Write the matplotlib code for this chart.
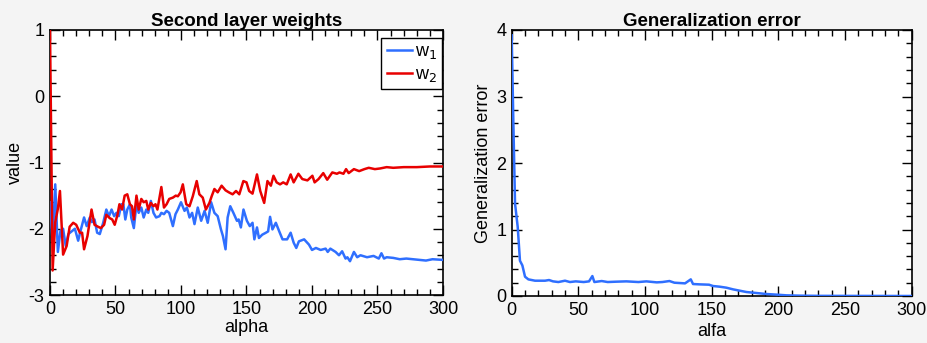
import matplotlib
matplotlib.use("Agg")
import matplotlib.pyplot as plt
from matplotlib.ticker import MultipleLocator

plt.rcParams['font.family'] = ['Liberation Sans', 'DejaVu Sans']
plt.rcParams['axes.unicode_minus'] = False

# second layer weights
alpha_w1 = [0, 2, 4, 6, 8, 10, 12, 14, 16.5, 19, 21.5, 23.6, 26, 28, 30.4, 32, 34, 36, 38, 40.6,
            43, 45, 47, 49, 50.7, 52.5, 54.5, 56, 57.5, 59, 61, 62, 64, 66, 67.7, 69.7, 71.5, 73.5,
            75, 77, 79, 81, 83.6, 85, 87, 89, 91, 93.8, 95.8, 97.6, 100, 102.7, 104.5, 106.5, 108.5,
            110.3, 112.8, 115.4, 118, 120.4, 123, 125.5, 128, 130.5, 132, 134, 135.6, 137.6, 140,
            142.7, 144, 145.7, 147.7, 150.3, 152.5, 154.6, 156, 158, 159.5, 162, 164.8, 166.5, 168,
            169.8, 172.4, 175, 177.5, 181, 183.7, 186, 188, 190, 194, 197.7, 200, 203, 206.6, 210.4,
            212, 214, 218, 220.6, 223, 225.6, 227, 229, 232, 234.5, 237, 242, 247, 251, 253, 255,
            257, 262, 267, 272, 277, 282, 287, 292, 300]
w1 = [-1.6, -2.2, -1.33, -2.35, -2.03, -2.0, -2.26, -2.08, -2.04, -2.0, -2.18, -2.01, -1.83, -1.96,
      -1.83, -1.9, -1.86, -2.06, -2.08, -1.91, -1.71, -1.81, -1.71, -1.81, -1.76, -1.81, -1.63,
      -1.63, -1.86, -1.71, -1.63, -1.83, -1.99, -1.63, -1.76, -1.68, -1.83, -1.71, -1.76, -1.58,
      -1.76, -1.83, -1.81, -1.76, -1.78, -1.73, -1.76, -1.96, -1.78, -1.71, -1.6, -1.73, -1.68,
      -1.83, -1.76, -1.93, -1.68, -1.88, -1.73, -1.91, -1.6, -1.76, -1.81, -2.01, -2.11, -2.31,
      -1.83, -1.66, -1.76, -1.88, -1.86, -1.98, -1.71, -1.88, -1.96, -1.91, -2.16, -1.98, -2.14,
      -2.09, -2.06, -2.04, -1.82, -2.01, -1.91, -2.04, -2.16, -2.16, -2.06, -2.21, -2.29, -2.19,
      -2.16, -2.24, -2.32, -2.29, -2.32, -2.3, -2.35, -2.3, -2.35, -2.4, -2.34, -2.45, -2.43,
      -2.49, -2.35, -2.43, -2.4, -2.43, -2.41, -2.45, -2.37, -2.45, -2.43, -2.44, -2.46, -2.45,
      -2.46, -2.47, -2.48, -2.46, -2.47]

alpha_w2 = [0, 2, 4, 6, 7.6, 10, 12.7, 15, 17.7, 20, 22.8, 24.5, 26, 28.6, 31.7, 34, 36.7, 38.8,
            41.3, 43, 45.6, 47.5, 49.4, 51.5, 53, 55, 57, 59, 61, 62.6, 64, 66, 67.7, 69.7, 71.5,
            73.5, 75, 77, 79, 80.5, 82, 85, 87, 89, 91, 93.8, 96, 97.6, 99.7, 101.4, 104, 106.5, 109,
            112, 114, 116.6, 119, 121.7, 123.4, 125.5, 128, 131, 134, 136.5, 139.4, 142, 144.5,
            147.6, 150, 152, 154.6, 158, 160.5, 163.5, 166, 168.6, 170.6, 173, 175.6, 178, 180.7,
            183.7, 186, 189.6, 192.6, 196.5, 200.3, 202, 205, 208.6, 211.6, 215.5, 219, 221, 224,
            226, 228, 232, 236, 240, 243.3, 248, 252, 257, 262, 270, 280, 290, 300]
w2 = [1.0, -2.63, -1.9, -1.7, -1.43, -2.39, -2.26, -1.97, -1.91, -1.94, -2.06, -2.06, -2.31, -2.11,
      -1.71, -1.94, -1.97, -1.99, -1.94, -1.79, -1.84, -1.86, -1.94, -1.79, -1.63, -1.71, -1.5,
      -1.48, -1.63, -1.66, -1.86, -1.5, -1.71, -1.55, -1.6, -1.58, -1.71, -1.61, -1.66, -1.63,
      -1.71, -1.37, -1.68, -1.63, -1.55, -1.53, -1.5, -1.51, -1.45, -1.33, -1.63, -1.66, -1.51,
      -1.28, -1.48, -1.53, -1.71, -1.61, -1.51, -1.4, -1.45, -1.35, -1.42, -1.45, -1.48, -1.43,
      -1.48, -1.28, -1.3, -1.43, -1.47, -1.18, -1.43, -1.61, -1.28, -1.35, -1.2, -1.3, -1.33,
      -1.3, -1.33, -1.18, -1.3, -1.17, -1.25, -1.27, -1.2, -1.3, -1.25, -1.16, -1.26, -1.15,
      -1.17, -1.15, -1.17, -1.1, -1.16, -1.1, -1.13, -1.1, -1.08, -1.1, -1.09, -1.07, -1.08,
      -1.07, -1.07, -1.06, -1.06]

# generalization error
alfa = [0, 1.2, 2.5, 4.5, 6.2, 8, 10, 12.5, 15, 17.5, 21, 25, 28, 31, 35, 40, 43.7, 48, 54, 58,
        60.5, 62, 67.5, 72, 78, 86, 95, 101, 108.8, 113, 118.3, 122, 130, 134.3, 136, 141, 148,
        151, 156, 161, 166, 171, 176, 181, 186, 191, 199, 206, 216, 230, 300]
gen_err = [3.92, 2.65, 1.39, 1.04, 0.53, 0.46, 0.29, 0.25, 0.24, 0.23, 0.23, 0.23, 0.24, 0.22,
           0.21, 0.23, 0.21, 0.22, 0.21, 0.22, 0.30, 0.21, 0.225, 0.21, 0.215, 0.22, 0.21, 0.22,
           0.205, 0.21, 0.225, 0.20, 0.19, 0.25, 0.18, 0.175, 0.17, 0.15, 0.14, 0.125, 0.10, 0.08,
           0.06, 0.05, 0.04, 0.03, 0.02, 0.01, 0.005, 0.002, 0.0]

blue = '#2f6fff'
red = '#e80000'
bg = '#f4f4f4'

fig = plt.figure(figsize=(9.28, 3.43), dpi=100, facecolor=bg)
ax1 = fig.add_axes([50 / 928, 48 / 343, 393 / 928, 265 / 343])
ax2 = fig.add_axes([511.7 / 928, 47 / 343, 400 / 928, 266 / 343])


def style(ax):
    ax.tick_params(which='both', direction='in', top=True, right=True, labelsize=13, pad=4)
    ax.tick_params(which='major', length=7, width=1)
    ax.tick_params(which='minor', length=4, width=1)
    for s in ax.spines.values():
        s.set_linewidth(1.2)


# lines drawn over the spines, as in the original
ax1.plot(alpha_w1, w1, color=blue, lw=1.8, label='w$_1$', zorder=3)
ax1.plot(alpha_w2, w2, color=red, lw=1.8, label='w$_2$', zorder=3)
ax1.set_xlim(0, 300)
ax1.set_ylim(-3, 1)
ax1.xaxis.set_major_locator(MultipleLocator(50))
ax1.xaxis.set_minor_locator(MultipleLocator(10))
ax1.yaxis.set_major_locator(MultipleLocator(1))
ax1.yaxis.set_minor_locator(MultipleLocator(0.2))
ax1.set_title('Second layer weights', fontsize=13.5, fontweight='bold', pad=3)
ax1.set_xlabel('alpha', fontsize=13, labelpad=1)
ax1.set_ylabel('value', fontsize=13, labelpad=3)
style(ax1)
leg = ax1.legend(loc='upper right', bbox_to_anchor=(392 / 393, 1 - 8 / 265), borderaxespad=0,
                 fontsize=13, fancybox=False, framealpha=1, edgecolor='black',
                 handlelength=1.4, handletextpad=0.15, labelspacing=0.25, borderpad=0.3)
leg.get_frame().set_linewidth(1)
leg.set_zorder(5)

ax2.plot(alfa, gen_err, color=blue, lw=1.8, zorder=3)
ax2.set_xlim(0, 300)
ax2.set_ylim(0, 4)
ax2.xaxis.set_major_locator(MultipleLocator(50))
ax2.xaxis.set_minor_locator(MultipleLocator(10))
ax2.yaxis.set_major_locator(MultipleLocator(1))
ax2.yaxis.set_minor_locator(MultipleLocator(0.2))
ax2.set_title('Generalization error', fontsize=13.5, fontweight='bold', pad=3)
ax2.set_xlabel('alfa', fontsize=13, labelpad=3)
ax2.set_ylabel('Generalization error', fontsize=13, labelpad=3)
style(ax2)

fig.savefig('out.png', dpi=100, facecolor=bg)
